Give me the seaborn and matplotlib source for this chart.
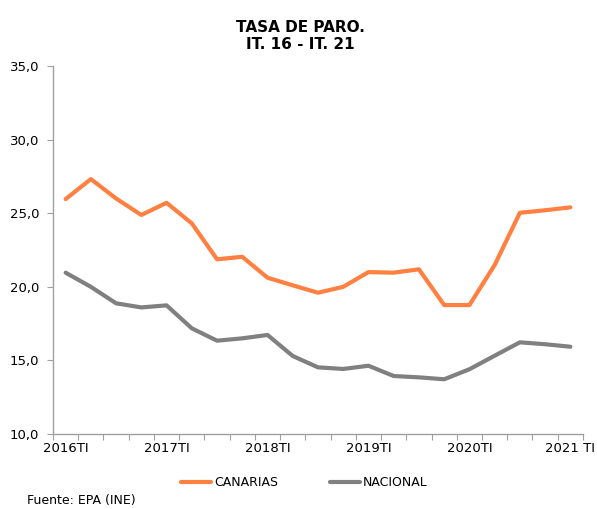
import pandas as pd
import seaborn as sns
import matplotlib.pyplot as plt
from matplotlib.ticker import FuncFormatter, FixedLocator

# Datos: tasa de paro trimestral (EPA)
trimestres = ["2016TI", "2016TII", "2016TIII", "2016TIV",
              "2017TI", "2017TII", "2017TIII", "2017TIV",
              "2018TI", "2018TII", "2018TIII", "2018TIV",
              "2019TI", "2019TII", "2019TIII", "2019TIV",
              "2020TI", "2020TII", "2020TIII", "2020TIV",
              "2021 TI"]
canarias = [25.96, 27.32, 26.0, 24.88, 25.71, 24.31, 21.87, 22.04, 20.62, 20.1, 19.6,
            20.0, 21.0, 20.96, 21.19, 18.76, 18.76, 21.48, 25.03, 25.2, 25.4]
nacional = [20.96, 20.0, 18.88, 18.6, 18.74, 17.18, 16.34, 16.5, 16.73, 15.3, 14.53,
            14.42, 14.64, 13.94, 13.85, 13.72, 14.4, 15.32, 16.23, 16.1, 15.93]
etiquetas_x = ["2016TI", "2017TI", "2018TI", "2019TI", "2020TI", "2021 TI"]

df = pd.DataFrame({
    "pos": list(range(len(trimestres))) * 2,
    "tasa": canarias + nacional,
    "serie": ["CANARIAS"] * len(trimestres) + ["NACIONAL"] * len(trimestres),
})

sns.set_style("white")
plt.rcParams['font.family'] = ['DejaVu Sans']
plt.rcParams['text.color'] = 'black'

fig = plt.figure(figsize=(5.97, 5.09), dpi=100)
ax = fig.add_axes([0.0888, 0.1473, 0.8877, 0.723])

sns.lineplot(data=df, x="pos", y="tasa", hue="serie",
             palette={"CANARIAS": "#FF8040", "NACIONAL": "#808080"},
             linewidth=3, ax=ax, legend=False)

# Ejes
ax.set_xlim(-0.5, len(trimestres) - 0.5)
ax.set_ylim(10, 35)
ax.set_yticks([10, 15, 20, 25, 30, 35])
ax.yaxis.set_major_formatter(FuncFormatter(lambda v, p: f"{v:.1f}".replace(".", ",")))
ax.set_xticks([0, 4, 8, 12, 16, 20])
ax.set_xticklabels(etiquetas_x)
ax.xaxis.set_minor_locator(FixedLocator([i - 0.5 for i in range(len(trimestres) + 1)]))
ax.tick_params(axis="x", which="major", length=0, labelsize=9.5, pad=6, labelcolor="black")
ax.tick_params(axis="x", which="minor", length=4, width=0.8, color="#A0A0A0", direction="out", bottom=True)
ax.tick_params(axis="y", length=4, width=0.8, color="#A0A0A0", direction="out", labelsize=9.5, pad=6,
               left=True, labelcolor="black")
ax.set_xlabel("")
ax.set_ylabel("")
sns.despine(ax=ax)
for s in ["left", "bottom"]:
    ax.spines[s].set_color("#A0A0A0")
    ax.spines[s].set_linewidth(1)

# Titulo
fig.text(0.503, 0.93, "TASA DE PARO.\nIT. 16 - IT. 21", ha="center", va="center",
         fontsize=11, fontweight="bold", linespacing=1.15, color="black")

# Leyenda
handles = [plt.Line2D([], [], color="#FF8040", lw=3), plt.Line2D([], [], color="#808080", lw=3)]
fig.legend(handles, ["CANARIAS", "NACIONAL"], loc="center", bbox_to_anchor=(0.51, 0.052),
           ncol=2, frameon=False, fontsize=9, handlelength=2.4, handletextpad=0.2,
           columnspacing=4.2, labelcolor="black")

fig.text(0.045, 0.016, "Fuente: EPA (INE)", fontsize=9, ha="left", va="center", color="black")

plt.savefig("out.png", dpi=100)
